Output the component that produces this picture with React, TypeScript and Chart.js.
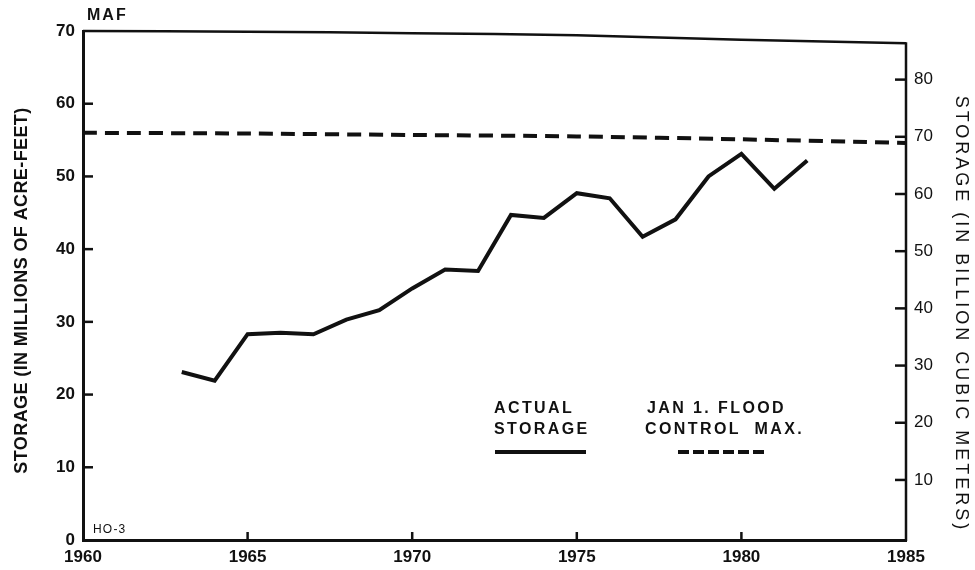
import React, { useEffect, useRef } from "react";
import { Chart, registerables } from "chart.js";

Chart.register(...registerables);

// ---- data ----
const ACTUAL_YEARS = [1963, 1964, 1965, 1966, 1967, 1968, 1969, 1970, 1971, 1972, 1973, 1974, 1975, 1976, 1977, 1978, 1979, 1980, 1981, 1982];
const ACTUAL_STORAGE = [23.1, 21.9, 28.3, 28.5, 28.3, 30.3, 31.6, 34.6, 37.2, 37.0, 44.7, 44.3, 47.7, 47.0, 41.7, 44.1, 50.0, 53.1, 48.3, 52.2];

const LINE_YEARS = [1960, 1965, 1970, 1975, 1980, 1985];
const CAPACITY = [70.0, 69.9, 69.7, 69.4, 68.8, 68.3];
const FLOOD_CONTROL_MAX = [56.0, 55.9, 55.7, 55.5, 55.1, 54.6];

const X_TICKS = [1960, 1965, 1970, 1975, 1980, 1985];
const LEFT_TICKS = [0, 10, 20, 30, 40, 50, 60, 70];
const RIGHT_TICKS = [10, 20, 30, 40, 50, 60, 70, 80];
const RIGHT_MIN = -0.5;
const RIGHT_MAX = 88.5;

const LEFT_TITLE = "STORAGE (IN MILLIONS OF ACRE-FEET)";
const RIGHT_TITLE = "STORAGE (IN BILLION CUBIC METERS)";
const LEGEND_ACTUAL = ["ACTUAL", "STORAGE"];
const LEGEND_FLOOD = ["JAN 1. FLOOD", "CONTROL  MAX."];

const INK = "#111111";
const FONT = '"Liberation Sans", Arial, sans-serif';

const decorPlugin = {
  id: "decor",
  afterDatasetsDraw(chart: any) {
    const { ctx, chartArea: a, scales } = chart;
    ctx.save();
    ctx.strokeStyle = INK;
    ctx.fillStyle = INK;
    ctx.lineCap = "butt";

    const line = (x1: number, y1: number, x2: number, y2: number, w: number) => {
      ctx.lineWidth = w;
      ctx.beginPath();
      ctx.moveTo(x1, y1);
      ctx.lineTo(x2, y2);
      ctx.stroke();
    };

    // inward tick marks
    X_TICKS.slice(1, -1).forEach((v) => {
      const px = scales.x.getPixelForValue(v);
      line(px, a.bottom, px, a.bottom - 8, 2.5);
    });
    LEFT_TICKS.slice(1, -1).forEach((v) => {
      const py = scales.y.getPixelForValue(v);
      line(a.left, py, a.left + 10, py, 2.5);
    });
    RIGHT_TICKS.forEach((v) => {
      const py = scales.y2.getPixelForValue(v);
      line(a.right, py, a.right - 11, py, 2.5);
    });

    // right axis line, from capacity line down to the bottom
    const topRight = scales.y.getPixelForValue(CAPACITY[CAPACITY.length - 1]);
    line(a.right, topRight - 1, a.right, a.bottom + 1, 2.5);

    // axis titles
    ctx.textAlign = "center";
    ctx.textBaseline = "middle";
    ctx.save();
    ctx.translate(22, (a.top + a.bottom) / 2 + 5);
    ctx.rotate(-Math.PI / 2);
    ctx.font = `bold 18px ${FONT}`;
    (ctx as any).letterSpacing = "0.4px";
    ctx.fillText(LEFT_TITLE, 0, 0);
    ctx.restore();

    ctx.save();
    ctx.translate(961, 314);
    ctx.rotate(Math.PI / 2);
    ctx.font = `18px ${FONT}`;
    (ctx as any).letterSpacing = "3px";
    ctx.fillText(RIGHT_TITLE, 0, 0);
    ctx.restore();

    // unit labels
    ctx.textAlign = "left";
    ctx.textBaseline = "alphabetic";
    ctx.font = `bold 16px ${FONT}`;
    (ctx as any).letterSpacing = "2px";
    ctx.fillText("MAF", a.left + 4, a.top - 11);
    ctx.font = `12px ${FONT}`;
    (ctx as any).letterSpacing = "1.2px";
    ctx.fillText("HO-3", a.left + 10, a.bottom - 7);

    // legend
    ctx.font = `bold 16px ${FONT}`;
    (ctx as any).letterSpacing = "2.4px";
    ctx.fillText(LEGEND_ACTUAL[0], 494, 413);
    ctx.fillText(LEGEND_ACTUAL[1], 494, 434);
    ctx.fillText(LEGEND_FLOOD[0], 647, 413);
    ctx.fillText(LEGEND_FLOOD[1], 645, 434);
    line(495, 452, 586, 452, 4);
    ctx.setLineDash([11, 4]);
    line(678, 452, 766, 452, 4);
    ctx.setLineDash([]);

    ctx.restore();
  },
};

export default function App() {
  const canvasRef = useRef<HTMLCanvasElement | null>(null);

  useEffect(() => {
    if (!canvasRef.current) return;
    const chart = new Chart(canvasRef.current, {
      type: "line",
      data: {
        datasets: [
          {
            label: "Actual storage",
            data: ACTUAL_YEARS.map((x, i) => ({ x, y: ACTUAL_STORAGE[i] })),
            borderColor: INK,
            borderWidth: 4,
            pointRadius: 0,
            tension: 0,
            yAxisID: "y",
          },
          {
            label: "Jan 1. flood control max.",
            data: LINE_YEARS.map((x, i) => ({ x, y: FLOOD_CONTROL_MAX[i] })),
            borderColor: INK,
            borderWidth: 4,
            borderDash: [14, 8],
            pointRadius: 0,
            tension: 0.3,
            yAxisID: "y",
          },
          {
            label: "Capacity",
            data: LINE_YEARS.map((x, i) => ({ x, y: CAPACITY[i] })),
            borderColor: INK,
            borderWidth: 2.5,
            pointRadius: 0,
            tension: 0.3,
            yAxisID: "y",
            clip: false as any,
          },
        ],
      },
      options: {
        animation: false,
        responsive: true,
        maintainAspectRatio: false,
        layout: { padding: { top: 31, left: 0, right: 0, bottom: 0 } },
        plugins: {
          legend: { display: false },
          tooltip: { enabled: false },
          title: { display: false },
        },
        scales: {
          x: {
            type: "linear",
            min: 1960,
            max: 1985,
            afterBuildTicks: (s: any) => {
              s.ticks = X_TICKS.map((value) => ({ value }));
            },
            afterFit: (s: any) => {
              s.height = 30;
            },
            grid: { display: false, drawTicks: false },
            border: { display: true, width: 3, color: INK },
            ticks: {
              padding: 7,
              color: INK,
              font: { family: FONT, size: 17, weight: "bold" },
              callback: (v: any) => String(v),
              maxRotation: 0,
              autoSkip: false,
            },
          },
          y: {
            type: "linear",
            position: "left",
            min: 0,
            max: 70,
            afterBuildTicks: (s: any) => {
              s.ticks = LEFT_TICKS.map((value) => ({ value }));
            },
            afterFit: (s: any) => {
              s.width = 83;
            },
            grid: { display: false, drawTicks: false },
            border: { display: true, width: 3, color: INK },
            ticks: {
              padding: 8,
              color: INK,
              font: { family: FONT, size: 17, weight: "bold" },
              callback: (v: any) => String(v),
            },
          },
          y2: {
            type: "linear",
            position: "right",
            min: RIGHT_MIN,
            max: RIGHT_MAX,
            afterBuildTicks: (s: any) => {
              s.ticks = RIGHT_TICKS.map((value) => ({ value }));
            },
            afterFit: (s: any) => {
              s.width = 69;
            },
            grid: { display: false, drawTicks: false },
            border: { display: false },
            ticks: {
              padding: 8,
              color: INK,
              font: { family: FONT, size: 17 },
              callback: (v: any) => String(v),
            },
          },
        },
      },
      plugins: [decorPlugin],
    });
    return () => chart.destroy();
  }, []);

  return (
    <div
      style={{
        position: "fixed",
        left: 0,
        top: 0,
        width: 975,
        height: 570,
        background: "#ffffff",
      }}
    >
      <canvas ref={canvasRef} />
    </div>
  );
}
